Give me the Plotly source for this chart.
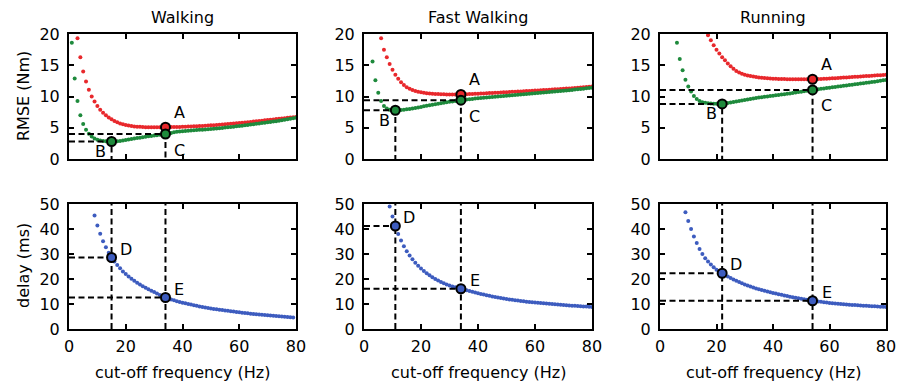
import plotly.graph_objects as go
from plotly.subplots import make_subplots

# ---------------- data ----------------
panel_titles = ["Walking", "Fast Walking", "Running"]
x_ticks = [0, 20, 40, 60, 80]
rmse_ticks = [0, 5, 10, 15, 20]
delay_ticks = [0, 10, 20, 30, 40, 50]

# RMSE (Nm), one value per Hz, starting frequency given separately
walk_red_start = 3
walk_red = [19.3, 16.3, 14.0, 12.4, 11.1, 10.0, 9.2, 8.5, 7.9, 7.4,
            7.0, 6.65, 6.35, 6.1, 5.9, 5.7, 5.55, 5.45, 5.35, 5.28,
            5.22, 5.18, 5.15, 5.12, 5.1, 5.09, 5.08, 5.08, 5.08, 5.08,
            5.09, 5.1, 5.1, 5.11, 5.12, 5.13, 5.14, 5.15, 5.17, 5.19,
            5.21, 5.23, 5.25, 5.28, 5.3, 5.33, 5.36, 5.39, 5.42, 5.45,
            5.48, 5.52, 5.55, 5.59, 5.63, 5.67, 5.71, 5.75, 5.8, 5.84,
            5.89, 5.94, 5.99, 6.04, 6.09, 6.14, 6.19, 6.24, 6.29, 6.34,
            6.39, 6.44, 6.49, 6.54, 6.59, 6.64, 6.69, 6.74]
walk_green_start = 1
walk_green = [18.6, 12.9, 9.3, 7.0, 5.6, 4.7, 4.05, 3.6, 3.3, 3.1,
              2.95, 2.88, 2.83, 2.8, 2.8, 2.82, 2.85, 2.9, 2.97, 3.05,
              3.12, 3.2, 3.28, 3.35, 3.42, 3.5, 3.57, 3.63, 3.7, 3.76,
              3.82, 3.88, 3.95, 4.0, 4.08, 4.18, 4.3, 4.38, 4.42, 4.46,
              4.5, 4.53, 4.56, 4.6, 4.63, 4.67, 4.7, 4.74, 4.78, 4.82,
              4.86, 4.9, 4.94, 4.98, 5.03, 5.08, 5.13, 5.18, 5.23, 5.28,
              5.34, 5.4, 5.46, 5.52, 5.58, 5.64, 5.7, 5.76, 5.82, 5.88,
              5.94, 6.0, 6.06, 6.12, 6.2, 6.28, 6.36, 6.44, 6.52, 6.6]
fast_red_start = 6
fast_red = [19.3, 17.5, 16.3, 15.2, 14.3, 13.5, 12.85, 12.3, 11.85, 11.5,
            11.25, 11.05, 10.9, 10.78, 10.68, 10.6, 10.54, 10.49, 10.45, 10.42,
            10.39, 10.37, 10.35, 10.34, 10.33, 10.33, 10.33, 10.33, 10.34, 10.35,
            10.37, 10.39, 10.41, 10.43, 10.45, 10.48, 10.5, 10.52, 10.55, 10.57,
            10.6, 10.62, 10.65, 10.67, 10.7, 10.72, 10.75, 10.77, 10.8, 10.82,
            10.85, 10.87, 10.9, 10.92, 10.95, 10.98, 11.0, 11.03, 11.06, 11.09,
            11.12, 11.15, 11.18, 11.21, 11.24, 11.27, 11.3, 11.33, 11.37, 11.4,
            11.44, 11.48, 11.52, 11.56, 11.6]
fast_green_start = 3
fast_green = [15.6, 12.6, 10.6, 9.3, 8.5, 8.1, 7.9, 7.82, 7.8, 7.82,
              7.86, 7.9, 7.95, 8.0, 8.08, 8.16, 8.25, 8.34, 8.43, 8.52,
              8.6, 8.68, 8.76, 8.84, 8.92, 9.0, 9.08, 9.15, 9.22, 9.29,
              9.36, 9.42, 9.47, 9.52, 9.57, 9.62, 9.67, 9.71, 9.75, 9.79,
              9.83, 9.87, 9.91, 9.95, 9.99, 10.03, 10.07, 10.11, 10.15, 10.19,
              10.23, 10.27, 10.31, 10.35, 10.39, 10.43, 10.47, 10.51, 10.55, 10.59,
              10.63, 10.67, 10.71, 10.75, 10.79, 10.83, 10.87, 10.91, 10.96, 11.01,
              11.06, 11.11, 11.16, 11.21, 11.26, 11.31, 11.36, 11.41]
run_red_start = 17
run_red = [19.8, 19.0, 18.2, 17.5, 16.9, 16.3, 15.8, 15.3, 14.85, 14.45,
           14.1, 13.85, 13.65, 13.5, 13.38, 13.28, 13.2, 13.12, 13.05, 13.0,
           12.95, 12.91, 12.88, 12.85, 12.83, 12.81, 12.8, 12.79, 12.78, 12.77,
           12.77, 12.76, 12.76, 12.76, 12.76, 12.76, 12.76, 12.76, 12.77, 12.79,
           12.81, 12.83, 12.85, 12.88, 12.91, 12.94, 12.97, 13.0, 13.03, 13.06,
           13.09, 13.12, 13.15, 13.18, 13.21, 13.24, 13.27, 13.3, 13.33, 13.36,
           13.39, 13.42, 13.46, 13.5]
run_green_start = 6
run_green = [18.6, 16.0, 14.2, 12.7, 11.6, 10.8, 10.1, 9.6, 9.3, 9.1,
             9.0, 8.93, 8.88, 8.85, 8.83, 8.82, 8.82, 8.88, 8.97, 9.06,
             9.14, 9.22, 9.3, 9.37, 9.44, 9.52, 9.6, 9.68, 9.76, 9.84,
             9.9, 9.96, 10.02, 10.08, 10.14, 10.2, 10.26, 10.32, 10.38, 10.44,
             10.5, 10.57, 10.64, 10.71, 10.78, 10.85, 10.92, 10.99, 11.06, 11.12,
             11.18, 11.24, 11.3, 11.36, 11.42, 11.48, 11.54, 11.6, 11.66, 11.72,
             11.78, 11.84, 11.9, 11.96, 12.02, 12.08, 12.14, 12.2, 12.26, 12.32,
             12.38, 12.45, 12.52, 12.59, 12.66]

# delay (ms)
walk_blue_start = 9
walk_blue = [45.4, 41.4, 38.1, 35.1, 32.7, 30.5, 28.6, 27.0, 25.6, 24.3,
             23.0, 22.0, 21.0, 20.1, 19.3, 18.5, 17.8, 17.1, 16.5, 15.9,
             15.3, 14.8, 14.2, 13.6, 13.1, 12.6, 12.2, 11.8, 11.45, 11.1,
             10.8, 10.5, 10.25, 10.0, 9.75, 9.5, 9.25, 9.0, 8.8, 8.6,
             8.4, 8.2, 8.0, 7.85, 7.7, 7.55, 7.4, 7.25, 7.1, 6.95,
             6.8, 6.65, 6.5, 6.38, 6.26, 6.14, 6.02, 5.9, 5.8, 5.7,
             5.6, 5.5, 5.4, 5.3, 5.2, 5.1, 5.0, 4.9, 4.8, 4.7, 4.6]
fast_blue_start = 9
fast_blue = [49.0, 45.0, 41.2, 38.0, 35.4, 33.1, 31.1, 29.4, 27.9, 26.5,
             25.3, 24.2, 23.2, 22.3, 21.5, 20.7, 20.0, 19.4, 18.8, 18.3,
             17.8, 17.4, 17.0, 16.7, 16.4, 16.1, 15.8, 15.5, 15.2, 14.9,
             14.6, 14.3, 14.0, 13.75, 13.5, 13.25, 13.0, 12.8, 12.6, 12.4,
             12.2, 12.0, 11.8, 11.65, 11.5, 11.35, 11.2, 11.05, 10.9, 10.8,
             10.7, 10.6, 10.5, 10.4, 10.3, 10.2, 10.1, 10.0, 9.9, 9.8,
             9.7, 9.6, 9.5, 9.42, 9.34, 9.26, 9.18, 9.1, 9.02, 8.95,
             8.88, 8.82]
run_blue_start = 9
run_blue = [46.7, 43.2, 40.0, 37.0, 34.4, 32.0, 30.0, 28.3, 27.0, 25.8,
            24.7, 23.7, 22.9, 22.3, 21.6, 21.0, 20.4, 19.8, 19.3, 18.8,
            18.3, 17.8, 17.4, 17.0, 16.6, 16.2, 15.9, 15.6, 15.3, 15.0,
            14.7, 14.4, 14.15, 13.9, 13.65, 13.4, 13.15, 12.9, 12.7, 12.5,
            12.3, 12.1, 11.9, 11.7, 11.5, 11.3, 11.15, 11.0, 10.85, 10.7,
            10.55, 10.4, 10.3, 10.2, 10.1, 10.0, 9.9, 9.8, 9.72, 9.64,
            9.56, 9.48, 9.4, 9.33, 9.26, 9.19, 9.12, 9.05, 8.98, 8.92,
            8.86, 8.8]

# highlighted points per panel (Walking, Fast Walking, Running)
freq_B = [15, 11, 22]
freq_C = [34, 34, 54]
rmse_A = [5.1, 10.34, 12.76]
rmse_B = [2.8, 7.8, 8.82]
rmse_C = [4.0, 9.42, 11.06]
delay_D = [28.6, 41.2, 22.3]
delay_E = [12.6, 16.1, 11.3]

red_series = [(walk_red_start, walk_red), (fast_red_start, fast_red), (run_red_start, run_red)]
green_series = [(walk_green_start, walk_green), (fast_green_start, fast_green), (run_green_start, run_green)]
blue_series = [(walk_blue_start, walk_blue), (fast_blue_start, fast_blue), (run_blue_start, run_blue)]

# ---------------- styling ----------------
FONT = "DejaVu Sans"
RED = "#e8282c"
GREEN = "#1e8a3c"
BLUE = "#3d5cbf"
W, H = 901, 387
x_dom_px = [(69, 296), (364, 592), (660, 886)]
top_px = (34, 159)
bot_px = (204, 329)
DOT = 4.0

fig = make_subplots(rows=2, cols=3)

def freqs(start, vals):
    return list(range(start, start + len(vals)))

dash_line = dict(color="black", width=2, dash="6px,3.5px")

for i in range(3):
    c = i + 1
    # top row
    for (st, vals), col in ((red_series[i], RED), (green_series[i], GREEN)):
        fig.add_trace(go.Scatter(x=freqs(st, vals), y=vals, mode="markers",
                                 marker=dict(color=col, size=DOT, line=dict(width=0)),
                                 showlegend=False, hoverinfo="skip"), row=1, col=c)
    # dashed guides top
    for fx, fy in ((freq_B[i], rmse_B[i]), (freq_C[i], rmse_C[i])):
        fig.add_trace(go.Scatter(x=[0, fx, fx], y=[fy, fy, 0], mode="lines",
                                 line=dash_line, showlegend=False, hoverinfo="skip"),
                      row=1, col=c)
    fig.add_trace(go.Scatter(x=[freq_C[i]], y=[rmse_A[i]], mode="markers",
                             marker=dict(color=RED, size=9, line=dict(color="black", width=2)),
                             showlegend=False), row=1, col=c)
    fig.add_trace(go.Scatter(x=[freq_B[i], freq_C[i]], y=[rmse_B[i], rmse_C[i]], mode="markers",
                             marker=dict(color=GREEN, size=9, line=dict(color="black", width=2)),
                             showlegend=False), row=1, col=c)
    # bottom row
    st, vals = blue_series[i]
    fig.add_trace(go.Scatter(x=freqs(st, vals), y=vals, mode="markers",
                             marker=dict(color=BLUE, size=DOT, line=dict(width=0)),
                             showlegend=False, hoverinfo="skip"), row=2, col=c)
    for fx, fy in ((freq_B[i], delay_D[i]), (freq_C[i], delay_E[i])):
        fig.add_trace(go.Scatter(x=[0, fx], y=[fy, fy], mode="lines",
                                 line=dash_line, showlegend=False, hoverinfo="skip"),
                      row=2, col=c)
        fig.add_trace(go.Scatter(x=[fx, fx], y=[0, delay_ticks[-1]], mode="lines",
                                 line=dash_line, showlegend=False, hoverinfo="skip"),
                      row=2, col=c)
    fig.add_trace(go.Scatter(x=[freq_B[i], freq_C[i]], y=[delay_D[i], delay_E[i]], mode="markers",
                             marker=dict(color=BLUE, size=9, line=dict(color="black", width=2)),
                             showlegend=False), row=2, col=c)

axis_common = dict(showline=True, linecolor="black", linewidth=2, mirror="allticks",
                   ticks="inside", ticklen=5, tickwidth=1.5, tickcolor="black",
                   showgrid=False, zeroline=False, automargin=False,
                   tickfont=dict(family=FONT, size=16, color="black"))

for i in range(3):
    x0, x1 = x_dom_px[i]
    dom = [x0 / W, x1 / W]
    fig.update_xaxes(row=1, col=i + 1, domain=dom, range=[0, 80], tickvals=x_ticks,
                     showticklabels=False, **axis_common)
    fig.update_xaxes(row=2, col=i + 1, domain=dom, range=[0, 80], tickvals=x_ticks,
                     ticklabelstandoff=2, **axis_common)
    fig.update_yaxes(row=1, col=i + 1, domain=[1 - top_px[1] / H, 1 - top_px[0] / H],
                     range=[0, 20], tickvals=rmse_ticks, ticklabelstandoff=4, **axis_common)
    fig.update_yaxes(row=2, col=i + 1, domain=[1 - bot_px[1] / H, 1 - bot_px[0] / H],
                     range=[0, 50], tickvals=delay_ticks, ticklabelstandoff=4, **axis_common)

ann = []
tf = dict(family=FONT, size=16, color="black")
for i in range(3):
    x0, x1 = x_dom_px[i]
    ann.append(dict(text=panel_titles[i], x=(x0 + x1) / 2 / W, y=1 - 18 / H, xref="paper", yref="paper",
                    showarrow=False, font=tf, xanchor="center", yanchor="middle"))
    ann.append(dict(text="cut-off frequency (Hz)", x=(x0 + x1) / 2 / W, y=1 - 372 / H,
                    xref="paper", yref="paper", showarrow=False, font=tf,
                    xanchor="center", yanchor="middle"))
    xr = "x" if i == 0 else f"x{i + 1}"
    yr = "y" if i == 0 else f"y{i + 1}"
    xr2 = f"x{i + 4}"
    yr2 = f"y{i + 4}"
    labels = [("A", freq_C[i], rmse_A[i], xr, yr, 14, 15),
              ("B", freq_B[i], rmse_B[i], xr, yr, -11, -10),
              ("C", freq_C[i], rmse_C[i], xr, yr, 14, -16),
              ("D", freq_B[i], delay_D[i], xr2, yr2, 14, 8.5),
              ("E", freq_C[i], delay_E[i], xr2, yr2, 14, 8.5)]
    for t, lx, ly, xa, ya, dx, dy in labels:
        ann.append(dict(text=t, x=lx, y=ly, xref=xa, yref=ya, xshift=dx, yshift=dy,
                        showarrow=False, font=tf, xanchor="center", yanchor="middle"))

ann.append(dict(text="RMSE (Nm)", x=23 / W, y=1 - 96 / H, xref="paper", yref="paper",
                showarrow=False, font=tf, textangle=-90, xanchor="center", yanchor="middle"))
ann.append(dict(text="delay (ms)", x=23 / W, y=1 - 266 / H, xref="paper", yref="paper",
                showarrow=False, font=tf, textangle=-90, xanchor="center", yanchor="middle"))

fig.update_layout(width=W, height=H, margin=dict(l=0, r=0, t=0, b=0, autoexpand=False),
                  plot_bgcolor="white", paper_bgcolor="white",
                  font=dict(family=FONT, size=16, color="black"),
                  annotations=ann, showlegend=False)

fig.write_html("out.html", config={"displayModeBar": False},
               post_script="document.body.style.margin='0px';document.body.style.padding='0px';")
